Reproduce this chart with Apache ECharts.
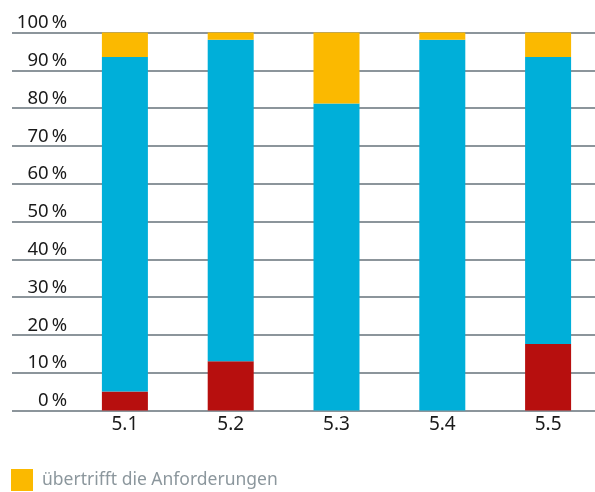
<!DOCTYPE html>
<html>
<head>
<meta charset="utf-8">
<script src="https://cdn.jsdelivr.net/npm/echarts@6/dist/echarts.min.js"></script>
<style>
  html, body { margin: 0; padding: 0; background: #fff; }
  #chart { width: 595px; height: 492px; }
</style>
</head>
<body>
<div id="chart"></div>
<script>
// Categories and shares (percent) per rating level
const categories = ['5.1', '5.2', '5.3', '5.4', '5.5'];
const belowValues = [5, 13, 0, 0, 17.6];            // red
const meetsValues = [88.5, 85.1, 81.2, 98.1, 75.9]; // blue
const exceedsValues = [6.5, 1.9, 18.8, 1.9, 6.5];   // yellow
const yTicks = [0, 10, 20, 30, 40, 50, 60, 70, 80, 90, 100];

const seriesNames = ['erfüllt die Anforderungen nicht', 'erfüllt die Anforderungen', 'übertrifft die Anforderungen'];
const colors = ['#b70f0e', '#00afd9', '#fbb900'];

const chart = echarts.init(document.getElementById('chart'), null, { renderer: 'canvas' });
const FONT = '"Noto Sans", "Open Sans", sans-serif';

const option = {
  animation: false,
  backgroundColor: '#ffffff',
  grid: [
    // full-width grid carrying the horizontal reference lines and labels
    { left: 12, right: 0, top: 32.5, bottom: 81.5, outerBoundsMode: 'none' },
    // bar area, its category bands run slightly past the right edge
    { left: 72, width: 529, top: 32.5, bottom: 81.5, outerBoundsMode: 'none' }
  ],
  legend: {
    data: [seriesNames[2]],
    left: 11,
    top: 469,
    padding: 0,
    itemWidth: 22,
    itemHeight: 22,
    itemGap: 20,
    icon: 'rect',
    textStyle: { color: '#8c979d', fontSize: 17.5, fontFamily: FONT, padding: [0, 0, 0, 4] }
  },
  xAxis: [
    { gridIndex: 0, type: 'category', data: [''], show: false },
    {
      gridIndex: 1,
      type: 'category',
      data: categories,
      axisLine: { show: false },
      axisTick: { show: false },
      axisLabel: { color: '#1a1a1a', fontSize: 19, fontFamily: FONT, margin: 5 }
    }
  ],
  yAxis: [
    {
      gridIndex: 0,
      type: 'value',
      min: yTicks[0],
      max: yTicks[yTicks.length - 1],
      interval: 10,
      axisLine: { show: false },
      axisTick: { show: false },
      splitLine: { lineStyle: { color: '#66727a', width: 1.6 } },
      axisLabel: {
        inside: true,
        align: 'right',
        verticalAlign: 'bottom',
        margin: 55,
        color: '#1a1a1a',
        fontSize: 18.5,
        fontFamily: FONT,
        formatter: v => v + '\u2009%'
      }
    },
    { gridIndex: 1, type: 'value', min: 0, max: 100, show: false }
  ],
  series: [belowValues, meetsValues, exceedsValues].map((vals, i) => ({
    name: seriesNames[i],
    type: 'bar',
    stack: 'total',
    xAxisIndex: 1,
    yAxisIndex: 1,
    barWidth: 46,
    itemStyle: { color: colors[i] },
    data: vals
  }))
};

chart.setOption(option);
</script>
</body>
</html>
